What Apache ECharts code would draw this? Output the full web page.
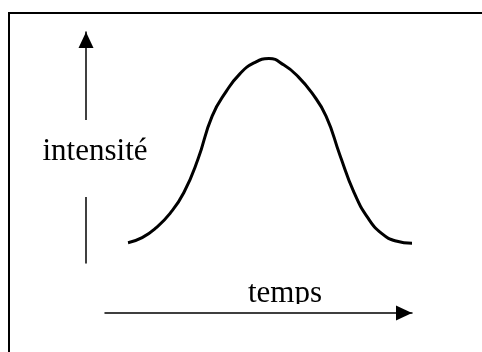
<!DOCTYPE html>
<html>
<head>
<meta charset="utf-8">
<style>
    html, body { margin: 0; padding: 0; background: #fff; }
    #main { width: 482px; height: 352px; }
</style>
</head>
<body>
<div id="main"></div>
<script src="https://cdn.jsdelivr.net/npm/echarts@6/dist/echarts.min.js"></script>
<script>
    // temps (0-100) et intensité (0-100)
    var temps = [7.5, 12.1, 16.6, 21.2, 25.7, 30.3, 34.9, 39.6, 44.0, 48.5, 53.4,
                 58.3, 62.9, 67.4, 72.0, 76.5, 81.1, 85.7, 90.2, 94.8, 100];
    var intensite = [8.8, 11.0, 15.2, 21.5, 30.5, 45.0, 63.6, 74.5, 82.0, 86.6, 88.5,
                     85.7, 80.7, 73.6, 63.6, 46.8, 30.6, 19.4, 12.7, 9.5, 8.5];
    var xLabel = 'temps';
    var yLabel = 'intensité';

    var points = [];
    for (var i = 0; i < temps.length; i++) {
        points.push([temps[i], intensite[i]]);
    }

    var font = '31px "Liberation Serif", "Times New Roman", serif';
    function axisLine() {
        return {
            show: true,
            onZero: false,
            symbol: ['none', 'triangle'],
            symbolSize: [15, 16],
            symbolOffset: [0, -8],
            lineStyle: { color: '#000', width: 1.5 }
        };
    }

    var chart = echarts.init(document.getElementById('main'));
    var option = {
        animation: false,
        grid: { left: 105, right: 70, top: 32, bottom: 89 },
        xAxis: {
            type: 'value', min: 0, max: 100,
            position: 'bottom', offset: 50,
            axisLine: axisLine(),
            axisTick: { show: false }, axisLabel: { show: false }, splitLine: { show: false }
        },
        yAxis: {
            type: 'value', min: 0, max: 100,
            position: 'left', offset: 19,
            axisLine: axisLine(),
            axisTick: { show: false }, axisLabel: { show: false }, splitLine: { show: false }
        },
        series: [{
            type: 'line',
            data: points,
            smooth: true,
            showSymbol: false,
            lineStyle: { color: '#000', width: 3 }
        }],
        graphic: [
            // cadre (haut et gauche seulement visibles)
            { type: 'polyline', z: 100, shape: { points: [[9, 360], [9, 13], [490, 13]] },
              style: { fill: null, stroke: '#000', lineWidth: 2 } },
            // coupure de la flèche verticale autour du libellé
            { type: 'rect', z: 100, shape: { x: 78, y: 120, width: 16, height: 77 },
              style: { fill: '#fff' } },
            { type: 'text', z: 101, x: 95, y: 151.5,
              style: { text: yLabel, font: font, fill: '#000', align: 'center', verticalAlign: 'middle' } },
            { type: 'text', z: 101, x: 285, y: 293.5,
              style: { text: xLabel, font: font, fill: '#000', align: 'center', verticalAlign: 'middle' } },
            // jambage du p coupé comme sur l'original
            { type: 'rect', z: 102, shape: { x: 240, y: 304, width: 95, height: 7 },
              style: { fill: '#fff' } }
        ]
    };
    chart.setOption(option);
</script>
</body>
</html>
